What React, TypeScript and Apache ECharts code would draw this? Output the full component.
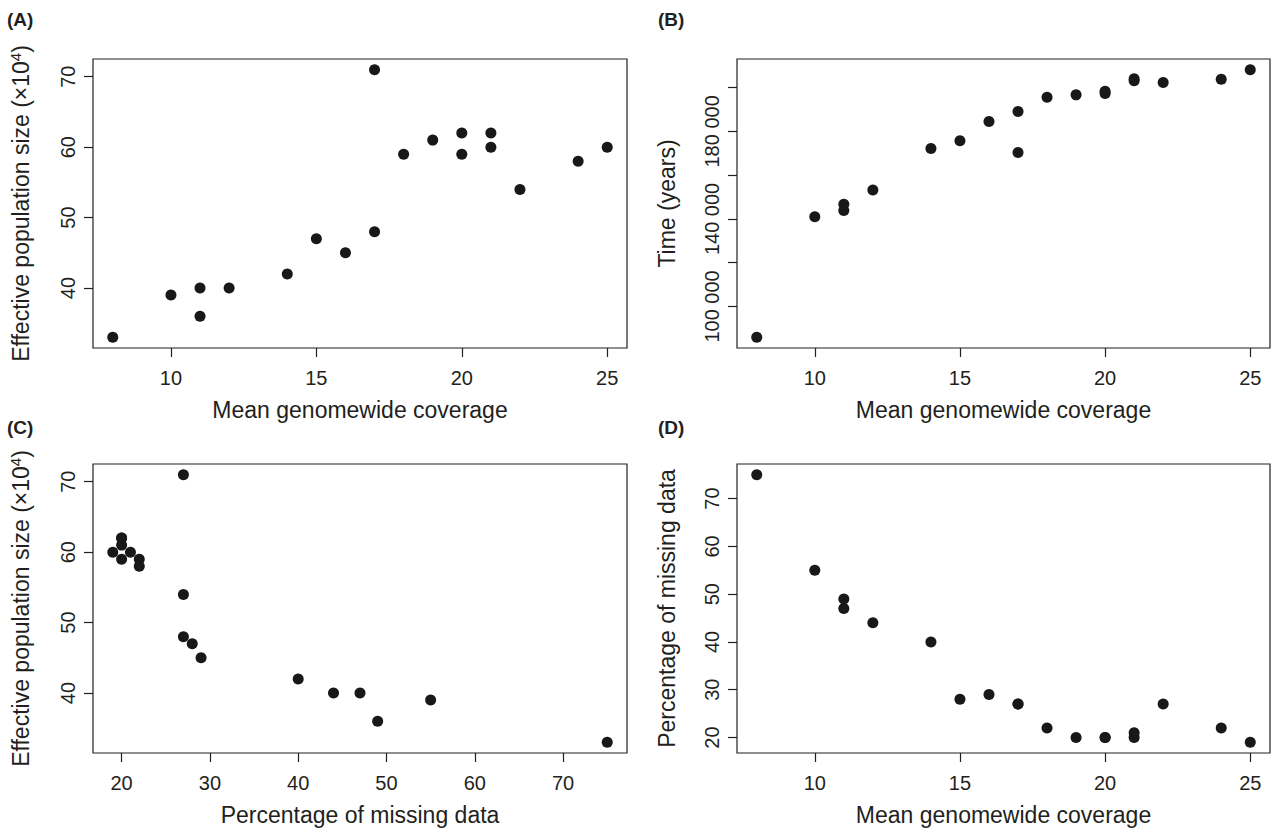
import React, { useEffect, useRef } from "react";
import * as echarts from "echarts";

// Per-sample values (19 samples)
const coverage = [8, 10, 11, 11, 12, 14, 15, 16, 17, 17, 18, 19, 20, 20, 21, 21, 22, 24, 25];
const effectiveSize = [33, 39, 40, 36, 40, 42, 47, 45, 71, 48, 59, 61, 62, 59, 62, 60, 54, 58, 60];
const timeYears = [85900, 141000, 146700, 143900, 153200, 172200, 175700, 184500, 189100, 170400, 195600, 196700, 198300, 197300, 204100, 203200, 202400, 203800, 208200];
const missingPct = [75, 55, 47, 49, 44, 40, 28, 29, 27, 27, 22, 20, 20, 20, 20, 21, 27, 22, 19];

// Tick values
const coverageTicks = [10, 15, 20, 25];
const neTicks = [40, 50, 60, 70];
const timeTicks = [100000, 120000, 140000, 160000, 180000, 200000];
const timeLabelTicks = [100000, 140000, 180000];
const missingTicks = [20, 30, 40, 50, 60, 70];

const panelLabels = ["(A)", "(B)", "(C)", "(D)"];
const xTitles = ["Mean genomewide coverage", "Mean genomewide coverage", "Percentage of missing data", "Mean genomewide coverage"];
const yTitles = ["{a|Effective population size (×10}{s|4}{a|)}", "Time (years)", "{a|Effective population size (×10}{s|4}{a|)}", "Percentage of missing data"];

const TEXT = "#231f20";
const FONT = "Liberation Sans, Arial, sans-serif";

function padded(v: number[]): [number, number] {
  const mn = Math.min(...v);
  const mx = Math.max(...v);
  const r = mx - mn;
  return [mn - 0.04 * r, mx + 0.04 * r];
}

const grids = [
  { left: 93, top: 59, width: 534, height: 289 },
  { left: 737, top: 59, width: 533, height: 289 },
  { left: 93, top: 464, width: 534, height: 289 },
  { left: 737, top: 464, width: 533, height: 289 },
];

const rich = {
  a: { fontSize: 23, color: TEXT, fontFamily: FONT, lineHeight: 26 },
  s: { fontSize: 15, color: TEXT, fontFamily: FONT, lineHeight: 15, verticalAlign: "top" as const },
};

function fmtTime(v: number) {
  return String(v).replace(/\B(?=(\d{3})+(?!\d))/g, " ");
}

function xAxisDef(gi: number, data: number[], ticks: number[], name: string) {
  const [min, max] = padded(data);
  return {
    type: "value" as const,
    gridIndex: gi,
    min,
    max,
    name,
    nameLocation: "middle" as const,
    nameGap: 50,
    nameTextStyle: { fontSize: 23, color: TEXT, fontFamily: FONT },
    axisLine: { show: false },
    axisTick: { show: true, length: 9, customValues: ticks, lineStyle: { color: TEXT, width: 1.2 } },
    axisLabel: { customValues: ticks, fontSize: 20, margin: 20, color: TEXT, fontFamily: FONT },
    splitLine: { show: false },
  };
}

function yAxisDef(gi: number, data: number[], ticks: number[], labelTicks: number[], name: string, fmt?: (v: number) => string) {
  const [min, max] = padded(data);
  return {
    type: "value" as const,
    gridIndex: gi,
    min,
    max,
    name,
    nameLocation: "middle" as const,
    nameGap: 59,
    nameRotate: 90,
    nameTextStyle: { fontSize: 23, color: TEXT, fontFamily: FONT, rich },
    axisLine: { show: false },
    axisTick: { show: true, length: 9, customValues: ticks, lineStyle: { color: TEXT, width: 1.2 } },
    axisLabel: {
      customValues: labelTicks,
      fontSize: 20,
      margin: 15,
      rotate: 90,
      color: TEXT,
      fontFamily: FONT,
      formatter: fmt ? (v: number) => fmt(v) : undefined,
    },
    splitLine: { show: false },
  };
}

function pairs(xs: number[], ys: number[]) {
  return xs.map((x, i) => [x, ys[i]]);
}

export default function App() {
  const ref = useRef<HTMLDivElement>(null);
  useEffect(() => {
    document.body.style.margin = "0";
    if (!ref.current) return;
    const chart = echarts.init(ref.current, undefined, { renderer: "svg" });
    const labelPos = [
      [7, 19],
      [658, 19],
      [7, 427],
      [658, 427],
    ];
    chart.setOption({
      animation: false,
      backgroundColor: "#ffffff",
      grid: grids.map((g) => ({ ...g, show: true, borderColor: TEXT, borderWidth: 1.2, backgroundColor: "transparent" })),
      xAxis: [
        xAxisDef(0, coverage, coverageTicks, xTitles[0]),
        xAxisDef(1, coverage, coverageTicks, xTitles[1]),
        xAxisDef(2, missingPct, missingTicks, xTitles[2]),
        xAxisDef(3, coverage, coverageTicks, xTitles[3]),
      ],
      yAxis: [
        yAxisDef(0, effectiveSize, neTicks, neTicks, yTitles[0]),
        yAxisDef(1, timeYears, timeTicks, timeLabelTicks, yTitles[1], fmtTime),
        yAxisDef(2, effectiveSize, neTicks, neTicks, yTitles[2]),
        yAxisDef(3, missingPct, missingTicks, missingTicks, yTitles[3]),
      ],
      series: [
        pairs(coverage, effectiveSize),
        pairs(coverage, timeYears),
        pairs(missingPct, effectiveSize),
        pairs(coverage, missingPct),
      ].map((d, i) => ({
        type: "scatter",
        xAxisIndex: i,
        yAxisIndex: i,
        data: d,
        symbol: "circle",
        symbolSize: 11,
        itemStyle: { color: "#1a1718", opacity: 1 },
      })),
      graphic: panelLabels.map((t, i) => ({
        type: "text",
        x: labelPos[i][0],
        y: labelPos[i][1],
        style: { text: t, font: `bold 19px ${FONT}`, fill: TEXT, textVerticalAlign: "middle" },
      })),
    });
    return () => chart.dispose();
  }, []);
  return <div ref={ref} style={{ width: 1274, height: 832, position: "absolute", left: 0, top: 0 }} />;
}
